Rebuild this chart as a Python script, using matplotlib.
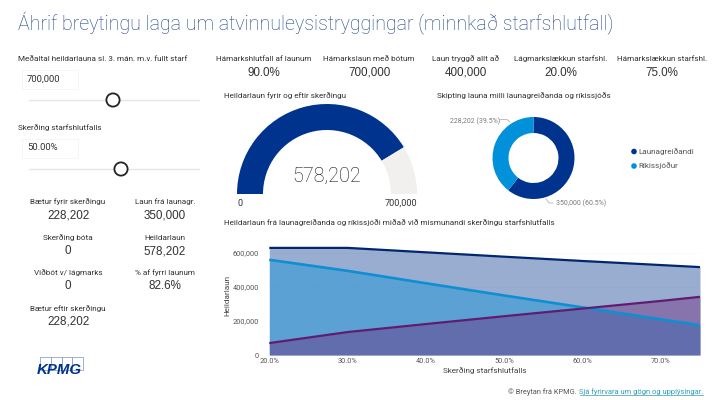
import matplotlib
matplotlib.use("Agg")
import matplotlib.pyplot as plt
from matplotlib.patches import Rectangle, Circle

W, H = 713, 400

# area chart
cut_pct = [20, 30, 40, 50, 60, 70, 75]
total_pay = [630000, 630000, 604000, 578202, 553000, 529000, 517000]
fund_pay = [560000, 495000, 422000, 350000, 280000, 210000, 175000]
employer_pay = [70000, 135000, 182000, 228202, 273000, 318000, 342000]
y_ticks = [0, 200000, 400000, 600000]

# gauge and donut
gauge_value = 578202
gauge_max = 700000
donut_values = [350000, 228202]
donut_names = ["Launagreiðandi", "Ríkissjóður"]
donut_labels = ["350,000 (60.5%)", "228,202 (39.5%)"]

# cards
top_cards = [
    ("Hámarkshlutfall af launum", "90.0%"),
    ("Hámarkslaun með bótum", "700,000"),
    ("Laun tryggð allt að", "400,000"),
    ("Lágmarkslækkun starfshl.", "20.0%"),
    ("Hámarkslækkun starfshl.", "75.0%"),
]
left_cards = [
    ("Bætur fyrir skerðingu", "228,202"),
    ("Skerðing bóta", "0"),
    ("Viðbót v/ lágmarks", "0"),
    ("Bætur eftir skerðingu", "228,202"),
]
right_cards = [
    ("Laun frá launagr.", "350,000"),
    ("Heildarlaun", "578,202"),
    ("% af fyrri launum", "82.6%"),
]

NAVY = "#00338D"
BLUE = "#0091DA"
PURPLE = "#6D2077"
LABEL = "#333333"
VALUE = "#333333"
LABEL_FONT = "Roboto"
VALUE_FONT = "Liberation Sans"

fig = plt.figure(figsize=(W / 100, H / 100), dpi=100, facecolor="white")


def box(left, top, right, bottom):
    return [left / W, 1 - bottom / H, (right - left) / W, (bottom - top) / H]


# overlay in pixel coordinates for the slicers and page furniture
page = fig.add_axes([0, 0, 1, 1])
page.set_xlim(0, W)
page.set_ylim(H, 0)
page.axis("off")


def txt(x, y, s, size=5.85, color=LABEL, ha="left", font=LABEL_FONT, **kw):
    return page.text(x, y, s, fontsize=size, color=color, ha=ha, va="center", family=font, **kw)


txt(18, 23, "Áhrif breytingu laga um atvinnuleysistryggingar (minnkað starfshlutfall)",
    size=14.15, color="#1F4284", font="Roboto", fontweight="light")

# slicers
txt(18, 59, "Meðaltal heildarlauna sl. 3. mán. m.v. fullt starf")
txt(18, 128, "Skerðing starfshlutfalls")
for y, text, knob in [(79, "700,000", 113), (148, "50.00%", 121)]:
    page.add_patch(Rectangle((22, y - 9.5), 56, 19, fc="white", ec="#F5F5F5", lw=0.7))
    txt(27, y, text, size=6.8, color="#333333")
    page.plot([29, 199], [y + 21, y + 21], color="#E6E6E6", lw=1, zorder=2)
    page.add_patch(Circle((knob, y + 21), 6.6, fc="white", ec="#222222", lw=1.3, zorder=3))

# cards
for (label, value), x in zip(top_cards, [264, 369, 466, 561, 662]):
    txt(x, 59, label, ha="center")
    txt(x, 72.5, value, size=8.4, color=VALUE, ha="center", font=VALUE_FONT)
for (label, value), y in zip(left_cards, [202, 238, 273, 309]):
    txt(68, y, label, ha="center")
    txt(68, y + 13, value, size=8.4, color=VALUE, ha="center", font=VALUE_FONT)
for (label, value), y in zip(right_cards, [202, 238, 273]):
    txt(165, y, label, ha="center")
    txt(165, y + 13, value, size=8.4, color=VALUE, ha="center", font=VALUE_FONT)

# chart titles
txt(224, 96, "Heildarlaun fyrir og eftir skerðingu")
txt(437, 96, "Skipting launa milli launagreiðanda og ríkissjóðs")
txt(224, 223, "Heildarlaun frá launagreiðanda og ríkissjóði miðað við mismunandi skerðingu starfshlutfalls")

# gauge
gauge = fig.add_axes(box(237, 104, 417, 284))
gauge.pie([gauge_value, gauge_max - gauge_value, gauge_max], radius=1, startangle=180, counterclock=False,
          colors=[NAVY, "#F1F0EF", "none"], wedgeprops={"width": 26 / 90})
gauge.set_xlim(-1, 1)
gauge.set_ylim(-1, 1)
txt(327, 176, f"{gauge_value:,}", size=14.2, color="#111111", ha="center", font="Roboto", fontweight="light")
txt(237, 203, "0", size=6.6, color=VALUE)
txt(417, 203, f"{gauge_max:,}", size=6.6, color=VALUE, ha="right")

# donut
donut = fig.add_axes(box(492.5, 117, 574.5, 199))
donut.pie(donut_values, radius=1, startangle=90, counterclock=False,
          colors=[NAVY, BLUE], wedgeprops={"width": 16 / 41})
donut.set_xlim(-1, 1)
donut.set_ylim(-1, 1)
txt(450, 121.5, donut_labels[1], size=5, color="#7A7A7A")
page.plot([500, 507, 510], [119.5, 119.5, 122], color="#B5B5B5", lw=0.6)
txt(556, 203.5, donut_labels[0], size=5, color="#7A7A7A")
page.plot([546, 549, 553], [199, 203, 203], color="#B5B5B5", lw=0.6)
for y, name, color in zip([151.5, 166], donut_names, [NAVY, BLUE]):
    page.add_patch(Circle((634, y), 2.8, fc=color, ec="none"))
    txt(638, y, name, size=5.9, color="#555555")

# area chart
ax = fig.add_axes(box(269.3, 245, 700, 355))
ax.patch.set_alpha(0)
for values, color, line, lw in [(total_pay, NAVY, "#00266E", 1.6), (fund_pay, BLUE, "#0E8FD2", 1.9), (employer_pay, PURPLE, "#5F1C70", 1.6)]:
    ax.fill_between(cut_pct, values, color=color, alpha=0.4, lw=0)
    ax.plot(cut_pct, values, color=line, lw=lw, solid_capstyle="butt")
ax.set_xlim(20, 75)
ax.set_ylim(0, 647000)
ax.set_xticks([20, 30, 40, 50, 60, 70])
ax.set_xticklabels([f"{t:.1f}%" for t in [20, 30, 40, 50, 60, 70]], fontsize=5.3, color="#555555", family=LABEL_FONT)
ax.set_yticks(y_ticks)
ax.set_yticklabels([f"{t:,}" for t in y_ticks], fontsize=5.3, color="#555555", family=LABEL_FONT)
ax.tick_params(axis="x", length=0, pad=2.5)
ax.tick_params(axis="y", length=0, pad=7.5)
ax.grid(axis="y", color="#EEEEEE", lw=0.6, ls=(0, (1, 2)))
ax.set_axisbelow(True)
for s in ax.spines.values():
    s.set_visible(False)
txt(485, 370.5, "Skerðing starfshlutfalls", size=5.9, color="#444444", ha="center")
txt(227, 296, "Heildarlaun", size=5.9, color="#444444", ha="center", rotation=90)

# logo
for x in [40, 50.8, 61.6, 72.4]:
    page.add_patch(Rectangle((x, 356.5), 10.8, 13.5, fc="none", ec="#8FA5CC", lw=0.6))
txt(37, 370, "KPMG", size=10.8, color=NAVY, font="Liberation Sans", fontweight="bold", fontstyle="italic")

# footer
txt(508, 392, "© Breytan frá KPMG.", size=5.35, color="#555555")
txt(703, 392, "Sjá fyrirvara um gögn og upplýsingar.", size=5.45, color="#2E9CB8", ha="right")
page.plot([580, 703], [395, 395], color="#2E9CB8", lw=0.5)

fig.savefig("out.png", dpi=100)
